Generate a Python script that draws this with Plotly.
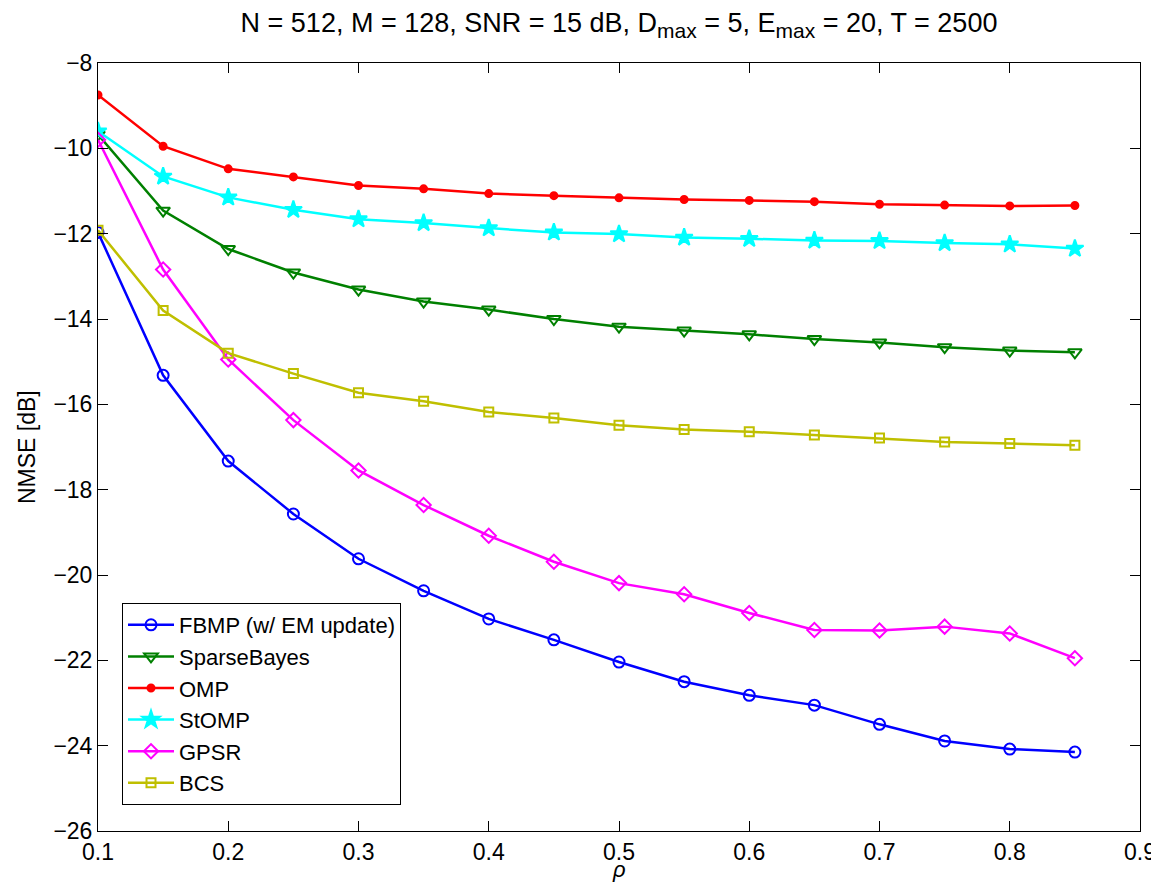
import plotly.graph_objects as go

rho = [0.1, 0.15, 0.2, 0.25, 0.3, 0.35, 0.4, 0.45, 0.5, 0.55, 0.6, 0.65, 0.7, 0.75, 0.8, 0.85]

fbmp = [-11.97, -15.32, -17.33, -18.57, -19.62, -20.37, -21.03, -21.52, -22.04, -22.50, -22.82, -23.05, -23.50, -23.89, -24.08, -24.15]
sparsebayes = [-9.68, -11.46, -12.36, -12.91, -13.31, -13.59, -13.78, -14.00, -14.18, -14.27, -14.36, -14.47, -14.55, -14.66, -14.74, -14.78]
omp = [-8.75, -9.95, -10.48, -10.67, -10.87, -10.95, -11.06, -11.11, -11.16, -11.20, -11.22, -11.25, -11.31, -11.33, -11.35, -11.34]
stomp = [-9.60, -10.66, -11.15, -11.44, -11.66, -11.75, -11.87, -11.97, -12.01, -12.09, -12.12, -12.16, -12.17, -12.22, -12.25, -12.35]
gpsr = [-9.80, -12.84, -14.95, -16.37, -17.55, -18.36, -19.08, -19.69, -20.19, -20.45, -20.89, -21.29, -21.30, -21.21, -21.37, -21.95]
bcs = [-11.92, -13.80, -14.80, -15.28, -15.73, -15.93, -16.18, -16.32, -16.49, -16.59, -16.64, -16.72, -16.79, -16.88, -16.92, -16.96]

names = ["FBMP (w/ EM update)", "SparseBayes", "OMP", "StOMP", "GPSR", "BCS"]
series = [fbmp, sparsebayes, omp, stomp, gpsr, bcs]
colors = ["#0000FF", "#008000", "#FF0000", "#00FFFF", "#FF00FF", "#BFBF00"]
symbols = ["circle-open", "triangle-down-open", "circle", "star", "diamond-open", "square-open"]
sizes = [11, 12, 7, 13, 11, 9]

fig = go.Figure()
for n, s, c, sym, sz in zip(names, series, colors, symbols, sizes):
    fig.add_trace(go.Scatter(
        x=rho, y=s, name=n, mode="lines+markers",
        line=dict(color=c, width=2.5),
        marker=dict(symbol=sym, size=sz, color=c, line=dict(color=c, width=2)),
    ))

font = "Liberation Sans, Arial, sans-serif"
W, H = 1151, 876
L, R, T, B = 90, 19, 55, 53
pw, ph = W - L - R, H - T - B
sub = '<sub><span style="font-size:21px">max</span></sub>'
fig.update_layout(
    width=W, height=H,
    margin=dict(l=L, r=R, t=T, b=B, autoexpand=False),
    paper_bgcolor="white", plot_bgcolor="white",
    font=dict(family=font, size=22, color="black"),
    title=dict(text=f"N = 512, M = 128, SNR = 15 dB, D{sub} = 5, E{sub} = 20, T = 2500",
               xref="paper", x=0.5, xanchor="center", yref="container", y=1 - 15 / H, yanchor="middle",
               font=dict(family=font, size=27, color="black")),
    showlegend=True,
    legend=dict(x=(114 - L) / pw, y=(823 - 797) / ph, xanchor="left", yanchor="bottom",
                bgcolor="white", bordercolor="black", borderwidth=1,
                font=dict(family=font, size=22, color="black"),
                tracegroupgap=0, itemwidth=46),
    annotations=[
        dict(text="<i>ρ</i>", xref="paper", yref="paper", x=0.5, y=-53 / ph,
             xanchor="center", yanchor="bottom", showarrow=False, font=dict(size=22)),
        dict(text="NMSE [dB]", xref="paper", yref="paper", x=(19 - L) / pw, y=0.5,
             xanchor="center", yanchor="middle", textangle=-90, showarrow=False, font=dict(size=23)),
    ],
)
fig.update_xaxes(range=[0.1, 0.9], dtick=0.1, tick0=0.1, showgrid=False, zeroline=False,
                 showline=True, linecolor="black", linewidth=1, mirror="ticks",
                 ticks="inside", ticklen=10, tickcolor="black", automargin=False,
                 tickfont=dict(size=23))
fig.update_yaxes(range=[-26, -8], dtick=2, showgrid=False, zeroline=False,
                 showline=True, linecolor="black", linewidth=1, mirror="ticks",
                 ticks="inside", ticklen=10, tickcolor="black", automargin=False,
                 tickfont=dict(size=23))

fig.write_html("out.html")
